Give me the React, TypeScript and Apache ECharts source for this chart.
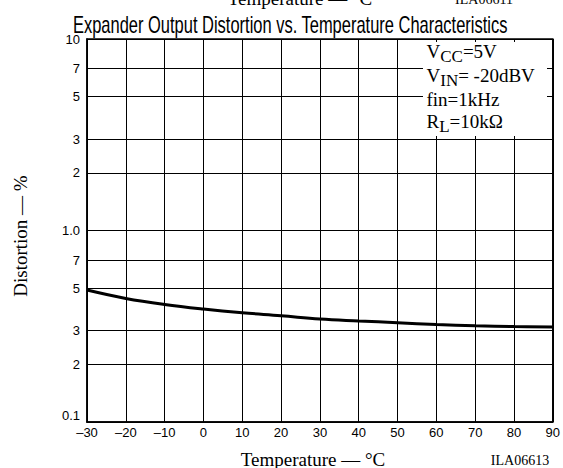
import React, { useEffect, useRef } from 'react';
import * as echarts from 'echarts';

const temperatures = [-30, -20, -10, 0, 10, 20, 30, 40, 50, 60, 70, 80, 90];
const distortion = [0.489, 0.442, 0.411, 0.389, 0.372, 0.359, 0.345, 0.337, 0.33, 0.323, 0.318, 0.315, 0.313];
const majorTicks = [0.1, 1, 10];
const majorLabels = ['0.1', '1.0', '10'];
const minorTicks = [0.2, 0.3, 0.5, 0.7, 2, 3, 5, 7];
const minorLabels = ['2', '3', '5', '7', '2', '3', '5', '7'];
const conditionMain = ['V', 'V', 'fin=1kHz', 'R'];
const conditionSub = ['CC', 'IN', '', 'L'];
const conditionRest = ['=5V', '= -20dBV', '', '=10kΩ'];

const TITLE = 'Expander Output Distortion vs. Temperature Characteristics';
const SANS = '"Liberation Sans", Arial, sans-serif';
const SERIF = '"Liberation Serif", "Times New Roman", serif';

function measure(text: string, font: string): number {
  const c = document.createElement('canvas').getContext('2d');
  if (!c) return text.length * 10;
  c.font = font;
  return c.measureText(text).width;
}

export default function App() {
  const ref = useRef<HTMLDivElement>(null);
  useEffect(() => {
    if (!ref.current) return;
    const chart = echarts.init(ref.current, undefined, { renderer: 'svg' });
    const titleFont = '23px "Liberation Sans"';
    const titleScale = 435 / measure(TITLE, titleFont);

    const rowY = [51, 75, 99.5, 121.5];
    const condTexts = conditionMain.map((m, i) => {
      let t = `{v|${m}}`;
      if (conditionSub[i]) t += `{s|${conditionSub[i]}}`;
      if (conditionRest[i]) t += `{v|${conditionRest[i]}}`;
      return {
        type: 'text',
        z: 101,
        x: 426.5,
        y: rowY[i],
        style: {
          text: t,
          textAlign: 'left',
          textVerticalAlign: 'middle',
          align: 'left',
          verticalAlign: 'middle',
          rich: {
            v: { fontFamily: SERIF, fontSize: 19, fill: '#000' },
            s: { fontFamily: SERIF, fontSize: 17, fill: '#000', padding: [10, 0, 0, 0] },
          },
        },
      };
    });

    const findIdx = (arr: number[], v: number) =>
      arr.findIndex((t) => Math.abs(Math.log10(t) - Math.log10(v)) < 1e-6);

    const centered = { textAlign: 'center', textVerticalAlign: 'middle', align: 'center', verticalAlign: 'middle', fill: '#000' };

    chart.setOption({
      animation: false,
      backgroundColor: '#fff',
      grid: { left: 87, right: 10, top: 39, bottom: 46, show: true, borderColor: '#000', borderWidth: 1.5 },
      xAxis: {
        type: 'value',
        min: -30,
        max: 90,
        interval: 10,
        axisLine: { show: true, onZero: false, lineStyle: { color: '#000', width: 1.5 } },
        axisTick: { show: false },
        splitLine: { show: true, lineStyle: { color: '#000', width: 1 } },
        axisLabel: {
          color: '#000',
          fontSize: 13,
          fontFamily: SANS,
          margin: 4,
          formatter: (v: number) => (v < 0 ? '–' + Math.abs(v) : String(v)),
        },
      },
      yAxis: {
        type: 'log',
        logBase: 10,
        min: 0.1,
        max: 10,
        axisLine: { show: true, onZero: false, lineStyle: { color: '#000', width: 1.5 } },
        axisTick: { show: false },
        splitLine: { show: true, lineStyle: { color: '#000', width: 1 } },
        minorTick: { show: false },
        minorSplitLine: { show: false },
        axisLabel: {
          color: '#000',
          fontSize: 13,
          fontFamily: SANS,
          margin: 7,
          formatter: (v: number) => {
            const i = findIdx(majorTicks, v);
            if (i < 0) return '';
            if (i === 0) return `{up|${majorLabels[i]}}`;
            return majorLabels[i];
          },
          rich: {
            up: { color: '#000', fontSize: 13, fontFamily: SANS, padding: [0, 0, 14, 0] },
          },
        },
      },
      series: [
        {
          type: 'line',
          data: temperatures.map((t, i) => [t, distortion[i]]),
          smooth: 0.4,
          symbol: 'none',
          z: 3,
          lineStyle: { color: '#000', width: 3 },
          markLine: {
            silent: true,
            z: 1,
            symbol: ['none', 'none'],
            animation: false,
            lineStyle: { color: '#000', width: 1, type: 'solid' },
            label: {
              show: true,
              position: 'start',
              distance: 7,
              color: '#000',
              fontSize: 13,
              fontFamily: SANS,
            },
            emphasis: { disabled: true },
            data: minorTicks.map((v, i) => ({
              yAxis: v,
              label: { formatter: minorLabels[i] },
            })),
          },
        },
      ],
      graphic: [
        {
          type: 'text',
          x: 73,
          y: 25,
          scaleX: titleScale,
          z: 100,
          style: { text: TITLE, font: titleFont, fill: '#000', textAlign: 'left', textVerticalAlign: 'middle', align: 'left', verticalAlign: 'middle' },
        },
        {
          type: 'text',
          x: 300,
          y: -2,
          z: 100,
          style: { ...centered, text: 'Temperature — °C', font: `19px ${SERIF}` },
        },
        {
          type: 'text',
          x: 484,
          y: -0.5,
          z: 100,
          style: { ...centered, text: 'ILA06611', font: `14px ${SERIF}` },
        },
        {
          type: 'text',
          x: 313,
          y: 459,
          z: 100,
          style: { ...centered, text: 'Temperature — °C', font: `19px ${SERIF}` },
        },
        {
          type: 'text',
          x: 520,
          y: 460,
          z: 100,
          style: { ...centered, text: 'ILA06613', font: `14px ${SERIF}` },
        },
        {
          type: 'text',
          x: 20,
          y: 236,
          rotation: Math.PI / 2,
          z: 100,
          style: { ...centered, text: 'Distortion — %', font: `19px ${SERIF}` },
        },
        {
          type: 'rect',
          z: 100,
          shape: { x: 423, y: 42, width: 124, height: 94 },
          style: { fill: '#fff' },
        },
        ...condTexts,
      ],
    });
    return () => chart.dispose();
  }, []);
  return <div ref={ref} style={{ position: 'fixed', left: 0, top: 0, width: 563, height: 468 }} />;
}
